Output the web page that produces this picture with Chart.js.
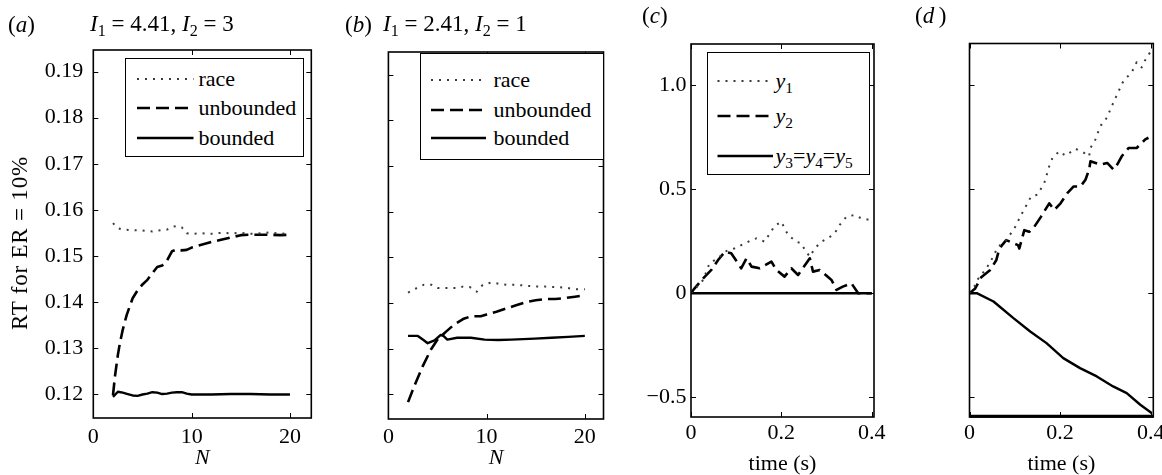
<!DOCTYPE html>
<html><head><meta charset="utf-8">
<script src="https://cdn.jsdelivr.net/npm/chart.js@4.4.1/dist/chart.umd.min.js"></script>
<style>
html,body{margin:0;padding:0;background:#fff;}
#wrap{position:relative;width:1162px;height:475px;overflow:hidden;font-family:"Liberation Serif","Times New Roman",serif;color:#000;}
#wrap canvas{position:absolute;left:0;top:0;}
.t{position:absolute;font-size:22px;line-height:22px;white-space:nowrap;}
.leg{position:absolute;border:1.5px solid #000;background:#fff;box-sizing:border-box;}
.row{position:absolute;height:22px;line-height:22px;font-size:22px;white-space:nowrap;}
.row svg{position:absolute;top:6px;}
sub{font-size:70%;vertical-align:baseline;position:relative;top:0.3em;line-height:0;}
</style></head>
<body><div id="wrap"></div>
<script>
// ---------------- DATA ----------------
// Panel (a): I1 = 4.41, I2 = 3
const nRaceA = [2, 2.5, 3, 4, 5, 6, 7, 7.5, 8, 8.5, 9, 9.5, 10, 11, 12, 13, 14, 15, 16, 17, 18, 19, 20];
const rtRaceA = [0.1571, 0.1560, 0.1557, 0.1556, 0.1555, 0.1553, 0.1556, 0.1557, 0.1563, 0.1565, 0.1562, 0.1549, 0.1548, 0.1549, 0.1548, 0.1550, 0.1549, 0.1550, 0.1548, 0.1549, 0.1551, 0.1548, 0.1549];
const nUnbA = [2, 2.2, 2.5, 2.7, 3, 3.4, 4, 4.5, 5, 5.5, 6, 6.5, 7, 7.5, 8, 8.5, 9, 9.5, 10, 11, 12, 13, 14, 15, 16, 17, 18, 19, 20];
const rtUnbA = [0.1197, 0.1238, 0.1285, 0.1310, 0.1340, 0.1372, 0.1408, 0.1425, 0.1438, 0.1448, 0.1462, 0.1476, 0.1479, 0.1490, 0.1510, 0.1514, 0.1512, 0.1513, 0.1518, 0.1524, 0.1530, 0.1535, 0.1540, 0.1545, 0.1546, 0.1546, 0.1546, 0.1545, 0.1546];
const nBndA = [2, 2.5, 3, 3.5, 4, 4.5, 5, 5.5, 6, 6.5, 7, 7.5, 8, 8.5, 9, 9.5, 10, 12, 14, 16, 18, 20];
const rtBndA = [0.1194, 0.1205, 0.1203, 0.1200, 0.1197, 0.1196, 0.1199, 0.1201, 0.1204, 0.1203, 0.1200, 0.1201, 0.1203, 0.1204, 0.1204, 0.1201, 0.1199, 0.1199, 0.1200, 0.1200, 0.1199, 0.1199];

// Panel (b): I1 = 2.41, I2 = 1
const nRaceB = [2, 3, 3.6, 4.4, 5, 6, 7, 7.6, 8.3, 9, 9.6, 10.5, 11.3, 12, 13, 14, 15, 16, 17, 18, 19, 20];
const rtRaceB = [0.1423, 0.1434, 0.1440, 0.1440, 0.1433, 0.1433, 0.1433, 0.1436, 0.1435, 0.1425, 0.1440, 0.1445, 0.1442, 0.1440, 0.1440, 0.1438, 0.1436, 0.1436, 0.1435, 0.1434, 0.1430, 0.1430];
const nUnbB = [2, 2.65, 3.5, 4.35, 5, 5.9, 6.7, 7.6, 8.4, 9.4, 10, 11, 12, 13, 14, 15, 16, 17, 18, 19, 20];
const rtUnbB = [0.1183, 0.1219, 0.1262, 0.1299, 0.1320, 0.1338, 0.1353, 0.1365, 0.1371, 0.1371, 0.1375, 0.1381, 0.1388, 0.1395, 0.1402, 0.1406, 0.1409, 0.1409, 0.1411, 0.1414, 0.1417];
const nBndB = [2, 3, 3.5, 4, 4.7, 5.3, 5.6, 6, 7, 8.4, 9.8, 11.2, 12.5, 14.9, 16.6, 18.3, 20];
const rtBndB = [0.1328, 0.1328, 0.1320, 0.1312, 0.1318, 0.1330, 0.1328, 0.1320, 0.1324, 0.1324, 0.1320, 0.1319, 0.1320, 0.1322, 0.1324, 0.1326, 0.1328];

// Panel (c)
const tY1C = [0, 0.027, 0.041, 0.06, 0.075, 0.097, 0.115, 0.13, 0.145, 0.163, 0.17, 0.185, 0.2, 0.207, 0.215, 0.233, 0.244, 0.252, 0.263, 0.274, 0.289, 0.303, 0.318, 0.329, 0.344, 0.362, 0.377, 0.396, 0.4];
const vY1C = [0, 0.064, 0.144, 0.168, 0.2, 0.216, 0.235, 0.251, 0.264, 0.248, 0.272, 0.323, 0.344, 0.312, 0.28, 0.248, 0.24, 0.208, 0.176, 0.216, 0.248, 0.264, 0.288, 0.328, 0.368, 0.376, 0.36, 0.352, 0.36];
const tY2C = [0, 0.008, 0.027, 0.045, 0.06, 0.075, 0.089, 0.104, 0.111, 0.123, 0.134, 0.152, 0.178, 0.189, 0.207, 0.222, 0.237, 0.263, 0.27, 0.285, 0.311, 0.322, 0.336, 0.355, 0.37, 0.4];
const vY2C = [0, 0.024, 0.072, 0.112, 0.16, 0.2, 0.192, 0.144, 0.12, 0.168, 0.128, 0.12, 0.152, 0.112, 0.08, 0.12, 0.088, 0.168, 0.104, 0.112, 0.064, 0.016, 0.032, 0.048, 0, 0];
const tY3C = [0, 0.1, 0.2, 0.3, 0.4];
const vY3C = [0, 0, 0, 0, 0];

// Panel (d)
const tY1D = [0, 0.012, 0.019, 0.037, 0.048, 0.063, 0.081, 0.099, 0.114, 0.136, 0.15, 0.165, 0.176, 0.183, 0.198, 0.212, 0.234, 0.253, 0.264, 0.267, 0.278, 0.286, 0.293, 0.304, 0.311, 0.326, 0.34, 0.358, 0.369, 0.38, 0.391, 0.399];
const vY1D = [0, 0.037, 0.069, 0.118, 0.158, 0.223, 0.255, 0.311, 0.376, 0.465, 0.473, 0.529, 0.61, 0.65, 0.682, 0.661, 0.694, 0.674, 0.658, 0.698, 0.739, 0.787, 0.819, 0.844, 0.884, 0.956, 1.021, 1.061, 1.11, 1.085, 1.134, 1.158];
const tY2D = [0, 0.012, 0.026, 0.045, 0.059, 0.066, 0.081, 0.107, 0.11, 0.121, 0.132, 0.143, 0.158, 0.176, 0.187, 0.201, 0.216, 0.23, 0.245, 0.256, 0.264, 0.267, 0.289, 0.304, 0.318, 0.326, 0.336, 0.351, 0.369, 0.388, 0.395];
const vY2D = [0, 0.021, 0.077, 0.11, 0.158, 0.215, 0.255, 0.231, 0.215, 0.303, 0.295, 0.319, 0.368, 0.432, 0.4, 0.432, 0.481, 0.513, 0.513, 0.545, 0.594, 0.634, 0.618, 0.626, 0.594, 0.618, 0.658, 0.698, 0.698, 0.739, 0.747];
const tY3D = [0, 0.016, 0.053, 0.097, 0.134, 0.17, 0.207, 0.244, 0.281, 0.317, 0.347, 0.377, 0.402];
const vY3D = [0, 0, -0.04, -0.12, -0.184, -0.24, -0.312, -0.36, -0.4, -0.448, -0.48, -0.536, -0.576];

// Ticks
const yTicksRT = [0.12, 0.13, 0.14, 0.15, 0.16, 0.17, 0.18, 0.19];
const yLabelsRT = ['0.12', '0.13', '0.14', '0.15', '0.16', '0.17', '0.18', '0.19'];
const xTicksN = [0, 10, 20];
const xLabelsN = ['0', '10', '20'];
const yTicksY = [-0.5, 0, 0.5, 1.0];
const yLabelsY = ['\u22120.5', '0', '0.5', '1.0'];
const xTicksT = [0, 0.2, 0.4];
const xLabelsT = ['0', '0.2', '0.4'];

const seriesNamesAB = ['race', 'unbounded', 'bounded'];
const seriesNamesCD = ['y1', 'y2', 'y3=y4=y5'];

// ---------------- STYLE / LAYOUT ----------------
const FONT = '"Liberation Serif", "Times New Roman", serif';
const STY = [
  {borderColor: '#3a3a3a', borderWidth: 2, borderDash: [2, 6]},
  {borderColor: '#000', borderWidth: 2.6, borderDash: [13, 6]},
  {borderColor: '#000', borderWidth: 2.4, borderDash: []}
];
function mk(names, xsArr, ysArr) {
  return names.map((nm, k) => Object.assign({
    label: nm,
    data: xsArr[k].map((x, i) => ({x: x, y: ysArr[k][i]})),
    pointRadius: 0, tension: 0, fill: false, borderCapStyle: 'butt', borderJoinStyle: 'round'
  }, STY[k]));
}

const framePlugin = {
  id: 'frame',
  afterDraw(chart, args, opts) {
    const {ctx, chartArea: a, scales} = chart;
    ctx.save();
    ctx.strokeStyle = '#000';
    ctx.lineWidth = 1;
    const L = 5;
    ctx.beginPath();
    scales.x.ticks.forEach(t => {
      const p = Math.round(scales.x.getPixelForValue(t.value)) + 0.5;
      ctx.moveTo(p, a.bottom); ctx.lineTo(p, a.bottom - L);
      ctx.moveTo(p, a.top); ctx.lineTo(p, a.top + L);
    });
    scales.y.ticks.forEach(t => {
      const p = Math.round(scales.y.getPixelForValue(t.value)) + 0.5;
      ctx.moveTo(a.left, p); ctx.lineTo(a.left + L, p);
      ctx.moveTo(a.right, p); ctx.lineTo(a.right - L, p);
    });
    ctx.stroke();
    ctx.lineWidth = 1.6;
    ctx.strokeRect(a.left, a.top, a.right - a.left, a.bottom - a.top);
    if (opts && opts.bottomWidth) {
      ctx.lineWidth = opts.bottomWidth;
      ctx.beginPath();
      ctx.moveTo(a.left, a.bottom - opts.bottomWidth / 2 + 0.8);
      ctx.lineTo(a.right, a.bottom - opts.bottomWidth / 2 + 0.8);
      ctx.stroke();
    }
    ctx.restore();
  }
};

const wrap = document.getElementById('wrap');
const CW = 1162, CH = 475, YW = 60, XH = 50;

function zeroPad(s) { s.paddingLeft = 0; s.paddingRight = 0; s.paddingTop = 0; s.paddingBottom = 0; }

function panel(P) {
  const cv = document.createElement('canvas');
  cv.width = CW; cv.height = CH;
  cv.style.width = CW + 'px'; cv.style.height = CH + 'px';
  wrap.appendChild(cv);
  const tickFont = {family: FONT, size: 22};
  new Chart(cv, {
    type: 'line',
    data: {datasets: P.datasets},
    options: {
      responsive: false, animation: false, events: [],
      layout: {autoPadding: false, padding: {left: P.l - YW, right: CW - P.r, top: P.t, bottom: CH - P.b - XH}},
      plugins: {legend: {display: false}, tooltip: {enabled: false}, frame: {bottomWidth: P.bottomWidth || 0}},
      scales: {
        x: {
          type: 'linear', min: P.xMin, max: P.xMax, bounds: 'data',
          afterBuildTicks: s => { s.ticks = P.xTicks.map(v => ({value: v})); },
          afterFit: s => { s.height = XH; zeroPad(s); },
          grid: {display: false, drawTicks: false}, border: {display: false},
          ticks: {callback: (v, i) => P.xLabels[i], font: tickFont, color: '#000', padding: P.xPad, maxRotation: 0, autoSkip: false}
        },
        y: {
          type: 'linear', min: P.yMin, max: P.yMax, bounds: 'data',
          afterBuildTicks: s => { s.ticks = P.yTicks.map(v => ({value: v})); },
          afterFit: s => { s.width = YW; zeroPad(s); },
          grid: {display: false, drawTicks: false}, border: {display: false},
          ticks: {display: P.showY, callback: (v, i) => P.yLabels[i], font: tickFont, color: '#000', padding: P.yPad, autoSkip: false}
        }
      }
    },
    plugins: [framePlugin]
  });
}

panel({l: 93.3, r: 311.3, t: 50, b: 418, xMin: 0, xMax: 22.17, yMin: 0.1148, yMax: 0.1947,
  xTicks: xTicksN, xLabels: xLabelsN, yTicks: yTicksRT, yLabels: yLabelsRT, showY: true, yPad: 10, xPad: 6,
  datasets: mk(seriesNamesAB, [nRaceA, nUnbA, nBndA], [rtRaceA, rtUnbA, rtBndA])});
panel({l: 388.4, r: 603.5, t: 52, b: 419, xMin: 0, xMax: 21.9, yMin: 0.1146, yMax: 0.1950,
  xTicks: xTicksN, xLabels: xLabelsN, yTicks: yTicksRT, yLabels: yLabelsRT, showY: false, yPad: 10, xPad: 5,
  datasets: mk(seriesNamesAB, [nRaceB, nUnbB, nBndB], [rtRaceB, rtUnbB, rtBndB])});
panel({l: 691, r: 874, t: 44, b: 417, xMin: 0, xMax: 0.405, yMin: -0.594, yMax: 1.197,
  xTicks: xTicksT, xLabels: xLabelsT, yTicks: yTicksY, yLabels: yLabelsY, showY: true, yPad: 4.5, xPad: 3,
  datasets: mk(seriesNamesCD, [tY1C, tY2C, tY3C], [vY1C, vY2C, vY3C])});
panel({l: 969.5, r: 1153.3, t: 43.5, b: 417, xMin: 0, xMax: 0.4057, yMin: -0.595, yMax: 1.2, bottomWidth: 3,
  xTicks: xTicksT, xLabels: xLabelsT, yTicks: yTicksY, yLabels: yLabelsY, showY: false, yPad: 4.5, xPad: 3,
  datasets: mk(seriesNamesCD, [tY1D, tY2D, tY3D], [vY1D, vY2D, vY3D])});

// ---------------- legends ----------------
function fmt(label) { return label.replace(/y(\d)/g, '<i>y</i><sub>$1</sub>'); }
function legend(names, box) {
  const d = document.createElement('div');
  d.className = 'leg';
  d.style.left = box.left + 'px'; d.style.top = box.top + 'px';
  d.style.width = box.w + 'px'; d.style.height = box.h + 'px';
  names.forEach((nm, k) => {
    const s = STY[k];
    const r = document.createElement('div');
    r.className = 'row';
    r.style.left = '0px'; r.style.top = (box.rows[k] - 11) + 'px';
    r.innerHTML = '<svg width="' + (box.lx1) + '" height="10" style="left:0">' +
      '<line x1="' + box.lx0 + '" y1="5" x2="' + box.lx1 + '" y2="5" stroke="' + s.borderColor + '" stroke-width="' + s.borderWidth +
      '" stroke-dasharray="' + (s.borderDash.length ? s.borderDash.join(',') : 'none') + '"/></svg>' +
      '<span style="position:absolute;left:' + box.tx + 'px;top:0">' + fmt(nm) + '</span>';
    d.appendChild(r);
  });
  wrap.appendChild(d);
}
legend(seriesNamesAB, {left: 125, top: 58, w: 178.5, h: 99, rows: [20, 49, 78.5], lx0: 11, lx1: 67.5, tx: 72.5});
legend(seriesNamesAB, {left: 420, top: 53, w: 183.5, h: 106.5, rows: [26, 56, 84], lx0: 10, lx1: 65, tx: 72.5});
legend(seriesNamesCD, {left: 707, top: 52, w: 162.5, h: 123, rows: [28, 63, 103], lx0: 9.5, lx1: 65, tx: 67.5});

// ---------------- texts ----------------
function txt(html, x, y, extra) {
  const d = document.createElement('div');
  d.className = 't';
  d.innerHTML = html;
  d.style.left = x + 'px'; d.style.top = y + 'px';
  if (extra) Object.assign(d.style, extra);
  wrap.appendChild(d);
  return d;
}
txt('(<i>a</i>)', 8, 14, {fontSize: '23px'});
txt('<i>I</i><sub>1</sub> = 4.41, <i>I</i><sub>2</sub> = 3', 90, 13, {fontSize: '23px'});
txt('(<i>b</i>)', 345, 14, {fontSize: '23px'});
txt('<i>I</i><sub>1</sub> = 2.41, <i>I</i><sub>2</sub> = 1', 383, 13, {fontSize: '23px'});
txt('(<i>c</i>)', 642, 5, {fontSize: '23px'});
txt('(<i>d</i>&thinsp;)', 915, 5, {fontSize: '23px'});
txt('RT for ER = 10%', 20, 243, {fontSize: '23px', letterSpacing: '0.8px', transform: 'translate(-50%,-50%) rotate(-90deg)'});
txt('<i>N</i>', 202.3, 446, {transform: 'translateX(-50%)'});
txt('<i>N</i>', 496, 446, {transform: 'translateX(-50%)'});
txt('time (s)', 782.5, 451.5, {transform: 'translateX(-50%)'});
txt('time (s)', 1061.4, 451.5, {transform: 'translateX(-50%)'});
</script>
</body></html>
